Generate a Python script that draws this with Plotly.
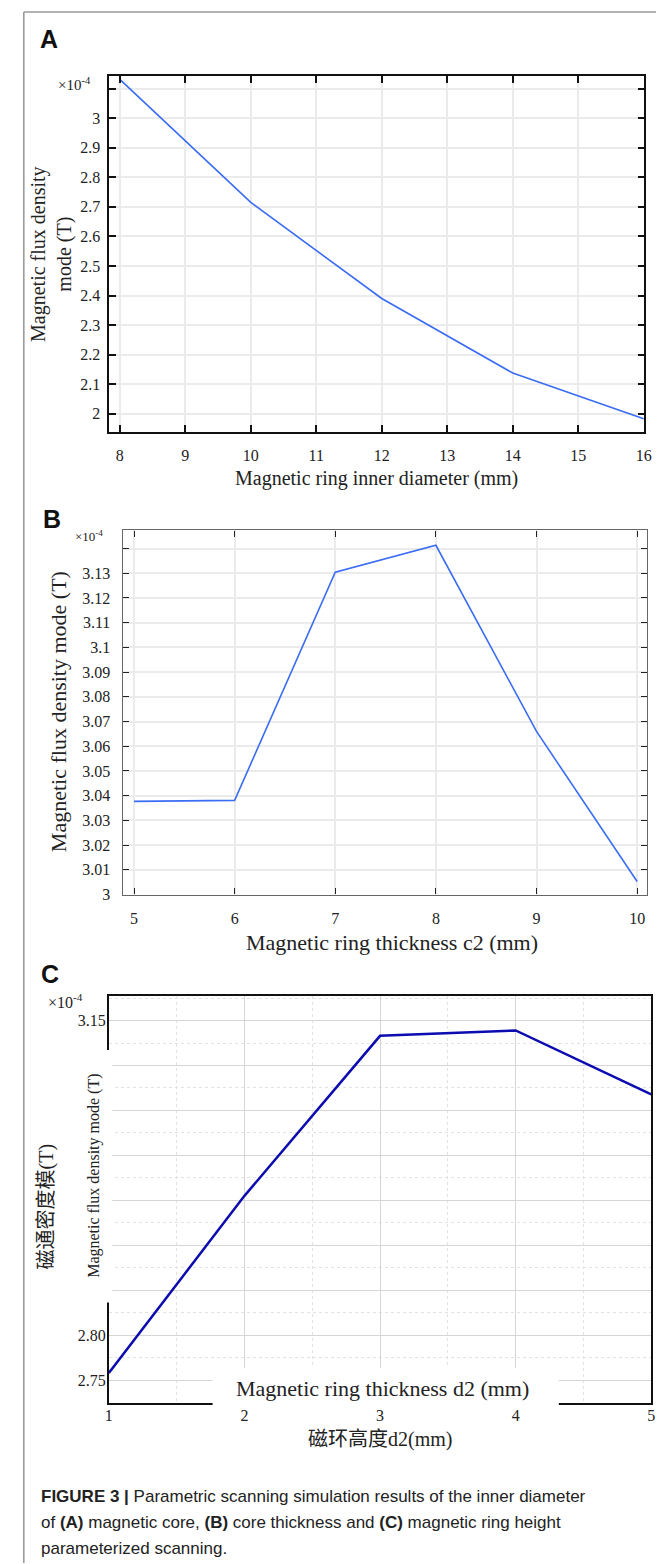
import plotly.graph_objects as go

W, H = 664, 1564

# ---------------- data ----------------
# Panel A: inner diameter sweep
a_x = [8, 10, 12, 14, 16]
a_y = [3.131, 2.715, 2.39, 2.138, 1.983]
a_xticks = [8, 9, 10, 11, 12, 13, 14, 15, 16]
a_yticks = [2.0, 2.1, 2.2, 2.3, 2.4, 2.5, 2.6, 2.7, 2.8, 2.9, 3.0]
a_yticktext = ["2", "2.1", "2.2", "2.3", "2.4", "2.5", "2.6", "2.7", "2.8", "2.9", "3"]
a_yunlabeled = [3.1]

# Panel B: thickness c2 sweep
b_x = [5, 6, 7, 8, 9, 10]
b_y = [3.0377, 3.0381, 3.1304, 3.1413, 3.066, 3.0053]
b_xticks = [5, 6, 7, 8, 9, 10]
b_yticks = [3.00, 3.01, 3.02, 3.03, 3.04, 3.05, 3.06, 3.07, 3.08, 3.09, 3.10, 3.11, 3.12, 3.13]
b_yticktext = ["3", "3.01", "3.02", "3.03", "3.04", "3.05", "3.06", "3.07", "3.08", "3.09", "3.1",
               "3.11", "3.12", "3.13"]
b_yunlabeled = [3.14]

# Panel C: height d2 sweep
c_x = [1, 2, 3, 4, 5]
c_y = [2.758, 2.955, 3.133, 3.139, 3.068]
c_xticks = [1, 2, 3, 4, 5]
c_yticks = [2.75, 2.80, 3.15]
c_yticktext = ["2.75", "2.80", "3.15"]
c_yunlabeled = [2.85, 2.90, 2.95, 3.00, 3.05, 3.10]


def px(x):
    return x / W


def py(y):
    return 1 - y / H


SERIF = "Liberation Serif, Times New Roman, serif"
SANS = "Liberation Sans, Arial, sans-serif"
CJK = "Liberation Serif, Noto Sans CJK SC, serif"

fig = go.Figure()
fig.add_trace(go.Scatter(x=a_x, y=a_y, mode="lines", line=dict(color="#3a6cf4", width=1.6),
                         xaxis="x", yaxis="y", showlegend=False))
fig.add_trace(go.Scatter(x=b_x, y=b_y, mode="lines", line=dict(color="#3a6cf4", width=1.6),
                         xaxis="x2", yaxis="y2", showlegend=False))
fig.add_trace(go.Scatter(x=c_x, y=c_y, mode="lines", line=dict(color="#0c0cb0", width=2.5),
                         xaxis="x3", yaxis="y3", showlegend=False))

common_a = dict(showline=True, mirror="ticks", linecolor="#111", linewidth=1.6,
                ticks="inside", ticklen=7, tickwidth=1.6, tickcolor="#111",
                showgrid=True, gridcolor="#ebebeb", gridwidth=1.6, zeroline=False,
                tickfont=dict(family=SERIF, size=16, color="#222"))
common_b = dict(showline=True, mirror="ticks", linecolor="#666", linewidth=1.2,
                ticks="inside", ticklen=6, tickwidth=1.4, tickcolor="#222",
                showgrid=True, gridcolor="#ebebeb", gridwidth=1.5, zeroline=False,
                tickfont=dict(family=SERIF, size=16, color="#222"))
common_c = dict(showline=True, mirror=True, linecolor="#111", linewidth=2,
                ticks="", showgrid=True, gridcolor="#d6d6d6", gridwidth=1, zeroline=False,
                tickfont=dict(family=SERIF, size=16, color="#222"))

c_xmid = [(a + b) / 2 for a, b in zip(c_xticks[:-1], c_xticks[1:])]
c_yall = sorted(c_yticks + c_yunlabeled)
c_ymid = [(a + b) / 2 for a, b in zip(c_yall[:-1], c_yall[1:])] + [c_yall[-1] + 0.025]

fig.update_layout(
    width=W, height=H, autosize=False,
    margin=dict(l=0, r=0, t=0, b=0),
    paper_bgcolor="white", plot_bgcolor="white",
    xaxis=dict(domain=[px(99), px(643)], anchor="y", range=[7.84, 16.01],
               tickmode="array", tickvals=a_xticks, ticklabelstandoff=8, **common_a),
    yaxis=dict(domain=[py(426), py(68.3)], anchor="x", range=[1.94, 3.143],
               tickmode="array", tickvals=a_yticks, ticktext=a_yticktext,
               ticklabelstandoff=4,
               minor=dict(tickmode="array", tickvals=a_yunlabeled, ticks="inside", ticklen=7,
                          tickwidth=1.6, tickcolor="#111", showgrid=True,
                          gridcolor="#ebebeb", gridwidth=1.6),
               **common_a),
    xaxis2=dict(domain=[px(112.5), px(645.4)], anchor="y2", range=[4.887, 10.095],
                tickmode="array", tickvals=b_xticks, ticklabelstandoff=9, **common_b),
    yaxis2=dict(domain=[py(891.7), py(525.5)], anchor="x2", range=[3.0, 3.1473],
                tickmode="array", tickvals=b_yticks, ticktext=b_yticktext,
                ticklabelstandoff=8,
                minor=dict(tickmode="array", tickvals=b_yunlabeled, ticks="inside", ticklen=6,
                           tickwidth=1.4, tickcolor="#222", showgrid=True,
                           gridcolor="#ebebeb", gridwidth=1.5),
                **common_b),
    xaxis3=dict(domain=[px(98.5), px(650)], anchor="y3", range=[1, 5],
                tickmode="array", tickvals=c_xticks, ticklabelstandoff=-3,
                minor=dict(tickmode="array", tickvals=c_xmid, showgrid=True,
                           gridcolor="#e2e2e2", griddash="dot", gridwidth=1),
                **common_c),
    yaxis3=dict(domain=[py(1402.7), py(994)], anchor="x3", range=[2.725, 3.177],
                tickmode="array", tickvals=c_yticks, ticktext=c_yticktext,
                ticklabelstandoff=-2,
                minor=dict(tickmode="array", tickvals=c_ymid, showgrid=True,
                           gridcolor="#e2e2e2", griddash="dot", gridwidth=1),
                **common_c),
    # unlabeled solid gridlines of panel C
    yaxis4=dict(overlaying="y3", anchor="x3", matches="y3", range=[2.725, 3.177],
                tickmode="array", tickvals=c_yunlabeled, showticklabels=False,
                showgrid=True, gridcolor="#d6d6d6", gridwidth=1, zeroline=False,
                showline=False, ticks=""),
)

shapes = []
# outer frame (open at the bottom)
frame_col = "#9a9a9a"
shapes.append(dict(type="line", xref="paper", yref="paper", x0=px(12), x1=px(12), y0=py(4), y1=0,
                   line=dict(color=frame_col, width=1.6)))
shapes.append(dict(type="line", xref="paper", yref="paper", x0=px(12), x1=px(661), y0=py(4), y1=py(4),
                   line=dict(color=frame_col, width=1.6)))
shapes.append(dict(type="line", xref="paper", yref="paper", x0=px(661), x1=px(661), y0=py(4), y1=0,
                   line=dict(color=frame_col, width=1.6)))
# white patches in panel C (over the axis labels)
shapes.append(dict(type="rect", xref="paper", yref="paper", x0=px(16), x1=px(102), y0=py(1302), y1=py(1048),
                   fillcolor="white", line=dict(width=0), layer="above"))
shapes.append(dict(type="rect", xref="paper", yref="paper", x0=px(204), x1=px(556), y0=py(1406), y1=py(1368),
                   fillcolor="white", line=dict(width=0), layer="above"))
fig.update_layout(shapes=shapes)

# invisible trace to activate the overlay axis of panel C
fig.add_trace(go.Scatter(x=[c_x[0]], y=[c_y[0]], mode="lines", xaxis="x3", yaxis="y4",
                         line=dict(width=0), hoverinfo="skip", showlegend=False))

ann = []


def add(text, x, y, size, family=SERIF, angle=0, xanchor="center", yanchor="middle", color="#222"):
    ann.append(dict(text=text, x=px(x), y=py(y), xref="paper", yref="paper", showarrow=False,
                    font=dict(family=family, size=size, color=color), textangle=angle,
                    xanchor=xanchor, yanchor=yanchor, align="left" if xanchor == "left" else "center"))


# panel letters
add("<b>A</b>", 26, 31, 25, family=SANS, xanchor="left", color="#111")
add("<b>B</b>", 29, 514, 25, family=SANS, xanchor="left", color="#111")
add("<b>C</b>", 27, 972, 25, family=SANS, xanchor="left", color="#111")

# exponent labels
add("×10<sup>-4</sup>", 64, 76, 15)
add("×10<sup>-4</sup>", 78, 531, 13)
add("×10<sup>-4</sup>", 54, 999, 16)

# Panel A titles
add("Magnetic flux density<br>mode (T)", 40, 247, 20, angle=-90)
add("Magnetic ring inner diameter (mm)", 371, 473, 20)

# Panel B titles
add("Magnetic flux density mode (T)", 48, 708, 22, angle=-90)
add("Magnetic ring thickness c2 (mm)", 386, 940, 22)

# Panel C titles
add("磁通密度模(T)", 35, 1205, 20, family=CJK, angle=-90)
add("Magnetic flux density mode (T)", 84, 1175, 16, angle=-90)
add("Magnetic ring thickness d2 (mm)", 377, 1388, 22)
add("磁环高度d2(mm)", 374, 1440, 20, family=CJK)

# caption
add("<b>FIGURE 3 |</b> Parametric scanning simulation results of the inner diameter", 27, 1497, 17,
    family=SANS, xanchor="left")
add("of <b>(A)</b> magnetic core, <b>(B)</b> core thickness and <b>(C)</b> magnetic ring height", 27, 1523, 17,
    family=SANS, xanchor="left")
add("parameterized scanning.", 27, 1549, 17, family=SANS, xanchor="left")

fig.update_layout(annotations=ann)

fig.write_html("out.html")
